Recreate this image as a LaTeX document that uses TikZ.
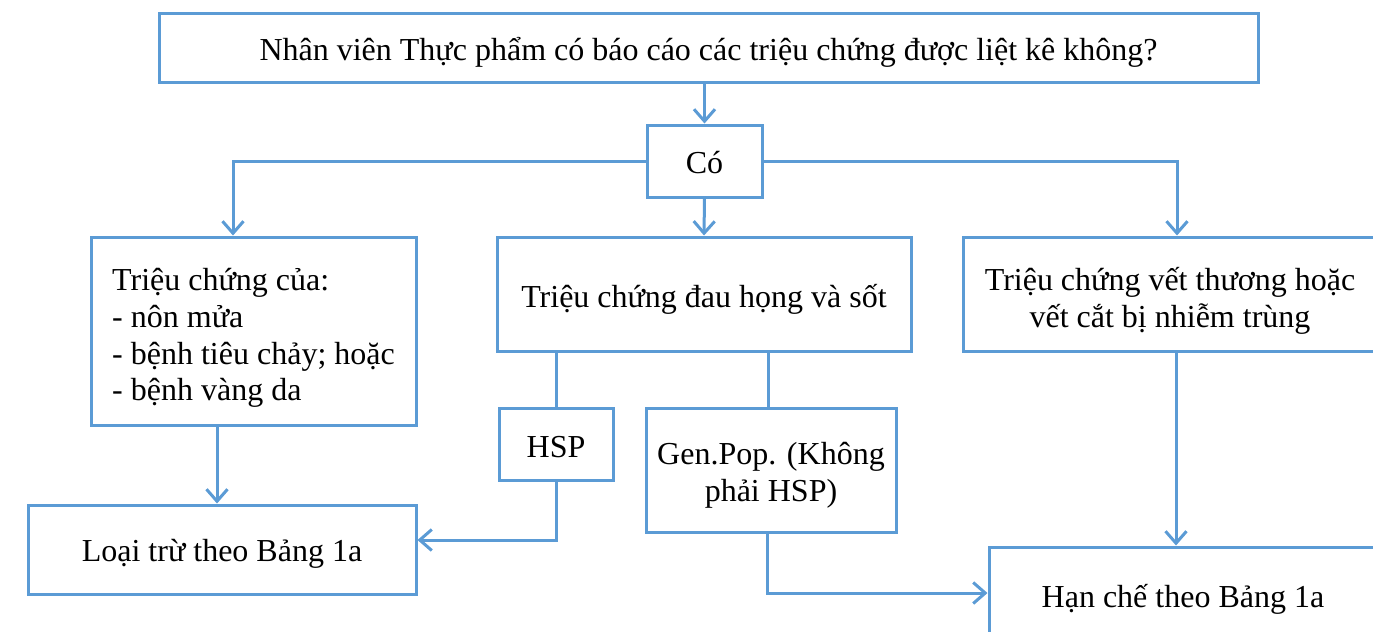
\documentclass[tikz,border=0pt]{standalone}
\usepackage{fontspec}
\setmainfont{Liberation Serif}
\usetikzlibrary{arrows.meta,calc}
\definecolor{flowblue}{HTML}{5B9BD5}
% box text: rows of a tabular, set without height so its place is given by the shift
\newcommand\boxtext[3][-7pt]{%
  \raisebox{#1}[0pt][0pt]{\begin{tabular}{@{}#2@{}}#3\end{tabular}}}
\tikzset{
  box/.style={draw=flowblue, line width=1.5pt, rectangle, fill=white,
    font=\fontsize{16}{18.4}\selectfont, inner sep=0pt},
  link/.style={draw=flowblue, line width=1.5pt},
  arr/.style={link, -{Straight Barb[length=6pt,width=10.5pt,line width=1.5pt]}}
}
\begin{document}
\begin{tikzpicture}[x=0.5pt,y=-0.5pt]
\clip (0,0) rectangle (1373,632);
\fill[white] (0,0) rectangle (1373,632);

% boxes
\node[box, minimum width=549.5pt, minimum height=34.5pt] (top) at (708.5,47.5)
  {\boxtext{c}{Nhân viên Thực phẩm có báo cáo các triệu chứng được liệt kê không?}};
\node[box, minimum width=57.5pt, minimum height=36pt] (co) at (704.5,161)
  {\boxtext{c}{Có}};
\node[box, minimum width=162.5pt, minimum height=94pt] (lb) at (253.5,331)
  {\boxtext[-8pt]{l}{Triệu chứng của:\\- nôn mửa\\- bệnh tiêu chảy; hoặc\\- bệnh vàng da}};
\node[box, minimum width=207pt, minimum height=57pt] (mb) at (704,294)
  {\boxtext[-7.5pt]{c}{Triệu chứng đau họng và sốt}};
\node[box, minimum width=207pt, minimum height=57pt] (rb) at (1170,294)
  {\boxtext[-8pt]{c}{Triệu chứng vết thương hoặc\\vết cắt bị nhiễm trùng}};
\node[box, minimum width=57pt, minimum height=36pt] (hsp) at (556,444)
  {\boxtext[-7.5pt]{c}{HSP}};
\node[box, minimum width=125pt, minimum height=62pt] (gen) at (771,470)
  {\boxtext[-7pt]{c}{Gen.Pop. (Không\\phải HSP)}};
\node[box, minimum width=194pt, minimum height=44.5pt] (lt) at (222,549.5)
  {\boxtext[-6.5pt]{c}{Loại trừ theo Bảng 1a}};
\node[box, minimum width=194pt, minimum height=46pt] (hc) at (1183,593)
  {\boxtext[-8pt]{c}{Hạn chế theo Bảng 1a}};

% connector end points on box edges
\coordinate (lbIn) at ([xshift=-10.25pt]lb.north);
\coordinate (rbIn) at ([xshift=3.5pt]rb.north);
\coordinate (ltIn) at ([xshift=-2.5pt]lt.north);
\coordinate (ltSide) at ([yshift=4.75pt]lt.east);
\coordinate (hcIn) at ([xshift=-3.5pt]hc.north);

% connectors
\draw[arr] (co.north |- top.south) -- (co.north);
\draw[arr] (co.west) -| (lbIn);
\draw[arr] (co.east) -| (rbIn);
\draw[arr] (co.south) -- (mb.north);
\draw[link] (hsp.north |- mb.south) -- (hsp.north);
\draw[link] ([xshift=-1.5pt]gen.north |- mb.south) -- ([xshift=-1.5pt]gen.north);
\draw[arr] (ltIn |- lb.south) -- (ltIn);
\draw[arr] (hsp.south) |- (ltSide);
\draw[arr] ([xshift=-2pt]gen.south) |- (hc.west);
\draw[arr] (hcIn |- rb.south) -- (hcIn);
\end{tikzpicture}
\end{document}
